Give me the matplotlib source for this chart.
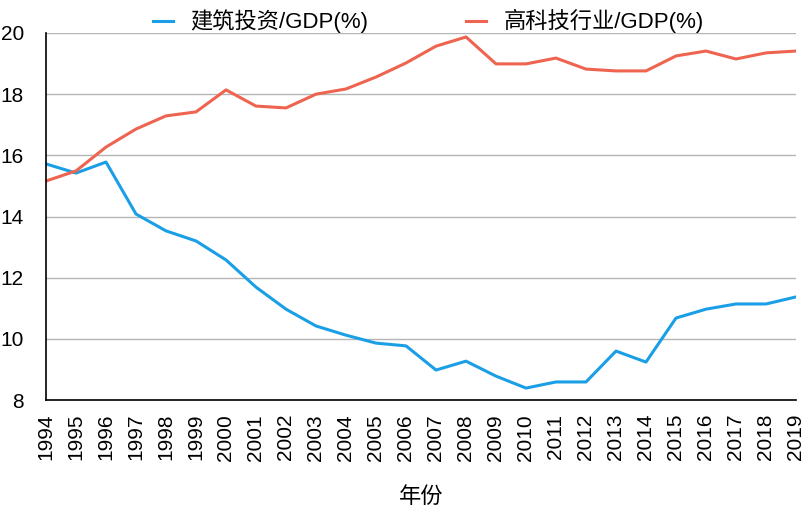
import numpy as np
import matplotlib.pyplot as plt

plt.rcParams['font.family'] = ['Liberation Sans', 'Noto Sans CJK SC', 'DejaVu Sans']

# data
years = list(range(1994, 2020))
construction = [15.72, 15.42, 15.78, 14.08, 13.53, 13.20, 12.58, 11.69, 10.97, 10.42,
                10.12, 9.86, 9.77, 8.98, 9.27, 8.78, 8.39, 8.59, 8.59, 9.60,
                9.24, 10.68, 10.97, 11.14, 11.14, 11.37]
hightech = [15.16, 15.49, 16.27, 16.86, 17.29, 17.42, 18.14, 17.61, 17.55, 18.00,
            18.17, 18.56, 19.02, 19.57, 19.87, 18.99, 18.99, 19.18, 18.82, 18.76,
            18.76, 19.25, 19.41, 19.15, 19.35, 19.41]
y_ticks = [8, 10, 12, 14, 16, 18, 20]

fig = plt.figure(figsize=(8.1, 5.12), dpi=100)
ax = fig.add_axes([46/810, 1-400/512, 750/810, 367/512])

ax.plot(years, construction, color="#1A9FE6", lw=2.2, label="建筑投资/GDP(%)")
ax.plot(years, hightech, color="#EE6450", lw=2.2, label="高科技行业/GDP(%)")

ax.set_xlim(1994, 2019)
ax.set_ylim(8, 20)
ax.set_yticks(y_ticks)
ax.set_xticks(years)
ax.set_xticklabels([str(y) for y in years], rotation=90)
ax.tick_params(axis='both', length=0, labelsize=15)
ax.tick_params(axis='x', pad=10)
ax.tick_params(axis='y', pad=16)
ax.grid(axis='y', color="#B5B5B5", lw=1)
ax.set_axisbelow(True)
for s in ['top', 'right']:
    ax.spines[s].set_visible(False)
for s in ['left', 'bottom']:
    ax.spines[s].set_color('black')
    ax.spines[s].set_linewidth(1.2)

ax.set_xlabel("年份", fontsize=16, labelpad=19)

ax.legend(loc='lower center', bbox_to_anchor=(0.51, 0.975), ncol=2, frameon=False,
          fontsize=16, handlelength=0.9, columnspacing=4.4, handletextpad=0.8,
          borderaxespad=0)

fig.savefig("out.png", dpi=100)
